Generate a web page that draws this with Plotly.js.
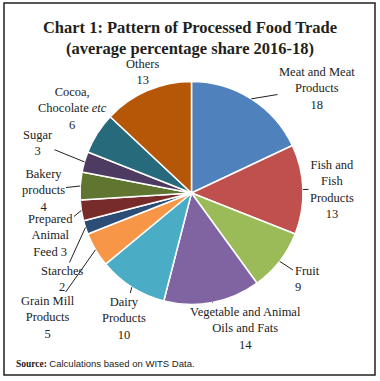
<!DOCTYPE html>
<html><head><meta charset="utf-8">
<script src="https://cdn.plot.ly/plotly-3.0.1.min.js"></script>
<style>html,body{margin:0;padding:0;background:#fff}</style>
</head><body><div id="chart" style="width:380px;height:381px"></div>
<script>
const categories = ["Meat and Meat Products","Fish and Fish Products","Fruit","Vegetable and Animal Oils and Fats","Dairy Products","Grain Mill Products","Starches","Prepared Animal Feed","Bakery products","Sugar","Cocoa, Chocolate etc","Others"];
const shares = [18,13,9,14,10,5,2,3,4,3,6,13];
const labelTexts = ["Meat and Meat<br>Products<br>18","Fish and<br>Fish<br>Products<br>13","Fruit<br>9","Vegetable and Animal<br>Oils and Fats<br>14","Dairy<br>Products<br>10","Grain Mill<br>Products<br>5","Starches<br>2","Prepared<br>Animal<br>Feed 3","Bakery<br>products<br>4","Sugar<br>3","Cocoa,<br>Chocolate <i>etc</i><br>6","Others<br>13"];
const colors = ["#4F81BD","#C0504D","#9BBB59","#8064A2","#4BACC6","#F79646","#2C4D75","#772C2A","#5F7530","#4D3B62","#276A7C","#B65708"];

// layout (pixels)
const W = 380, H = 381;
const cx = 191.5, cy = 193, r = 111.5;
const textPos = [[317,88],[332,189],[307,279],[245,328],[124,318],[48,317],[62,279],[50,236],[43,190],[38,143],[72,108],[142,72]];
const aligns = ["center","center","left","center","center","center","center","center","center","center","center","center"];
const arrows = [true,true,true,true,true,true,true,true,true,true,true,false];
const labelFont = {family:'Liberation Serif, serif', size:12.5, color:'#222'};

const total = shares.reduce((a,b)=>a+b,0);
let cum = 0;
const annotations = [];
shares.forEach((v,i)=>{
  const mid = (cum + v/2)/total * 2*Math.PI;
  cum += v;
  const hx = cx + r*Math.sin(mid), hy = cy - r*Math.cos(mid);
  const [tx,ty] = textPos[i];
  if (arrows[i]) {
    annotations.push({x:hx/W, y:1-hy/H, xref:'paper', yref:'paper', ax:tx-hx, ay:ty-hy,
      text:labelTexts[i], showarrow:true, arrowhead:0, arrowwidth:1, arrowcolor:'#222', standoff:0,
      align:aligns[i], font:labelFont});
  } else {
    annotations.push({x:tx/W, y:1-ty/H, xref:'paper', yref:'paper', xanchor:'center', yanchor:'middle', showarrow:false,
      text:labelTexts[i], align:aligns[i], font:labelFont});
  }
});
annotations.push({x:14/W, y:1-363/H, xref:'paper', yref:'paper', xanchor:'left', yanchor:'middle', showarrow:false,
  text:'<b>Source:</b> <span style="font-family:Liberation Sans, sans-serif">Calculations based on WITS Data.</span>',
  font:{family:'Liberation Serif, serif', size:9.5, color:'#222'}});

const data = [{
  type:'pie', labels:categories, values:shares, sort:false, direction:'clockwise', rotation:0,
  marker:{colors:colors, line:{color:'#fff', width:1.5}},
  textinfo:'none', hoverinfo:'label+value', showlegend:false,
  domain:{x:[(cx-r)/W,(cx+r)/W], y:[1-(cy+r)/H, 1-(cy-r)/H]}
}];
const layout = {
  width:W, height:H, margin:{l:0,r:0,t:0,b:0}, paper_bgcolor:'#fff', showlegend:false,
  title:{text:'<b>Chart 1: Pattern of Processed Food Trade<br>(average percentage share 2016-18)</b>',
    x:0.5, xanchor:'center', y:1-33/H, yanchor:'middle', font:{family:'Liberation Serif, serif', size:16.5, color:'#231f20'}},
  annotations:annotations,
  shapes:[{type:'rect', xref:'paper', yref:'paper', x0:4/W, x1:375/W, y0:1-375/H, y1:1-3/H, line:{color:'#231f20', width:1.5}}]
};
Plotly.newPlot('chart', data, layout, {staticPlot:true});
</script></body></html>
